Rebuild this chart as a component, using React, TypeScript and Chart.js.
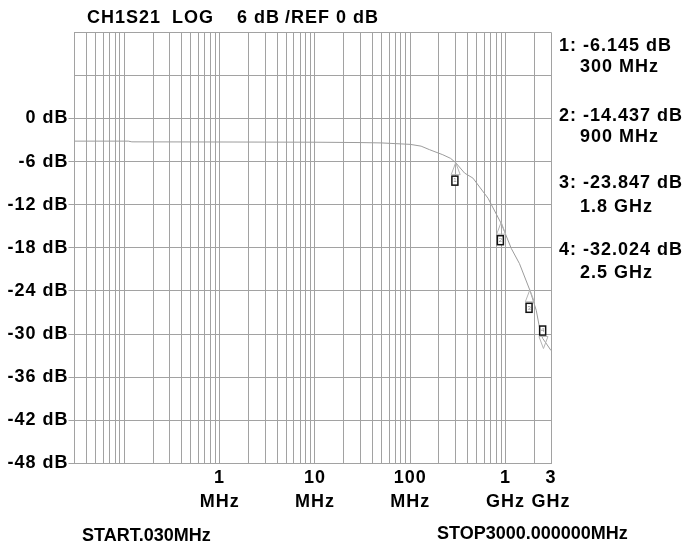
import React, { useEffect, useRef } from 'react';
import { Chart, registerables } from 'chart.js';

Chart.register(...registerables);

// ---- data ----
const traceFreqMHz = [0.03, 0.11, 0.12, 1, 10, 30, 50, 100, 130, 160, 220, 265, 300, 372, 455, 655, 900, 1150, 1400, 1800, 2100, 2280, 2450, 2700, 3000];
const traceDb = [-3.15, -3.15, -3.25, -3.27, -3.3, -3.35, -3.4, -3.6, -3.85, -4.35, -5.05, -5.55, -6.15, -7.6, -8.3, -11.1, -14.6, -18.1, -20.2, -23.9, -26.7, -29.2, -30.6, -31.4, -32.3];

const markerFreqMHz = [300, 900, 1800, 2500];
const markerDb = [-6.145, -14.437, -23.847, -32.024];
const markerFreqText = ['300 MHz', '900 MHz', '1.8 GHz', '2.5 GHz'];
const markerBelow = [true, true, true, false];

const xLabelValues = [1, 10, 100, 1000, 3000];
const xLabelLines = [['1', 'MHz'], ['10', 'MHz'], ['100', 'MHz'], ['1', 'GHz'], ['3', 'GHz']];
const xMin = 0.03;
const xMax = 3000;
const yMin = -48;
const yMax = 12;
const yStep = 6;

const headerParts = ['CH1S21', 'LOG', '6 dB', '/REF 0 dB'];
const startText = 'START.030MHz';
const stopText = 'STOP3000.000000MHz';

// ---- helpers ----
const FONT_FAMILY = '"Liberation Sans", Arial, Helvetica, sans-serif';
const GRID = '#a2a2a2';

function buildLogGrid(min: number, max: number): number[] {
  const out: number[] = [];
  for (let e = -3; e <= 4; e++) {
    for (let m = 1; m <= 9; m++) {
      const v = Number((m * Math.pow(10, e)).toPrecision(6));
      if (v >= min * 0.9999 && v <= max * 1.0001) out.push(v);
    }
  }
  return out;
}
const xGridValues = buildLogGrid(xMin, xMax);

const textPlugin = {
  id: 'textPlugin',
  beforeDraw(chart: any) {
    const ctx = chart.ctx;
    if ('letterSpacing' in ctx) ctx.letterSpacing = '1px';
  },
  afterDraw(chart: any) {
    const ctx = chart.ctx as CanvasRenderingContext2D;
    const xs = chart.scales.x;
    const ys = chart.scales.y;
    ctx.save();

    // markers
    markerFreqMHz.forEach((f, i) => {
      const px = xs.getPixelForValue(f);
      const py = ys.getPixelForValue(markerDb[i]);
      const dir = markerBelow[i] ? 1 : -1;
      ctx.strokeStyle = '#b4b4b4';
      ctx.lineWidth = 1;
      ctx.beginPath();
      ctx.moveTo(px, py);
      ctx.lineTo(px - 4.5, py + dir * 12);
      ctx.lineTo(px + 4.5, py + dir * 12);
      ctx.closePath();
      ctx.stroke();
      const bx = px - 3.8;
      const by = markerBelow[i] ? py + 13.5 : py - 22.5;
      ctx.fillStyle = '#ffffff';
      ctx.fillRect(bx, by, 6, 9);
      ctx.strokeStyle = '#111';
      ctx.lineWidth = 1.5;
      ctx.strokeRect(bx, by, 6, 9);
      if ('letterSpacing' in ctx) (ctx as any).letterSpacing = '0px';
      ctx.fillStyle = '#888';
      ctx.font = `6px ${FONT_FAMILY}`;
      ctx.textAlign = 'center';
      ctx.textBaseline = 'middle';
      ctx.fillText(String(i + 1), bx + 3, by + 4.7);
    });

    ctx.fillStyle = '#000';
    ctx.textBaseline = 'middle';
    ctx.textAlign = 'left';
    ctx.font = `bold 18px ${FONT_FAMILY}`;
    if ('letterSpacing' in ctx) (ctx as any).letterSpacing = '1px';

    // header
    const hx = [87, 172, 237, 285];
    headerParts.forEach((t, i) => ctx.fillText(t, hx[i], 18));

    // marker readouts
    const y1 = [46, 116, 183, 250];
    const y2 = [67, 137.5, 207, 273];
    markerDb.forEach((d, i) => {
      ctx.fillText(`${i + 1}: ${d.toFixed(3)} dB`, 559, y1[i]);
      ctx.fillText(markerFreqText[i], 580, y2[i]);
    });

    // start / stop
    if ('letterSpacing' in ctx) (ctx as any).letterSpacing = '0px';
    ctx.fillText(startText, 82, 536);
    ctx.fillText(stopText, 437, 534);

    ctx.restore();
  },
};

export default function App() {
  const ref = useRef<HTMLCanvasElement | null>(null);

  useEffect(() => {
    if (!ref.current) return;
    Chart.defaults.font.family = FONT_FAMILY;
    const data = traceFreqMHz.map((f, i) => ({ x: f, y: traceDb[i] }));
    const chart = new Chart(ref.current, {
      type: 'line',
      data: {
        datasets: [
          {
            data,
            borderColor: '#9c9c9c',
            borderWidth: 1,
            pointRadius: 0,
            tension: 0,
            fill: false,
          },
        ],
      },
      options: {
        animation: false,
        responsive: false,
        events: [],
        layout: { padding: { left: 0, top: 32.3, right: 133, bottom: 0 } },
        plugins: {
          legend: { display: false },
          tooltip: { enabled: false },
          title: { display: false },
        },
        scales: {
          x: {
            type: 'logarithmic',
            min: xMin,
            max: xMax,
            afterBuildTicks: (s: any) => {
              s.ticks = xGridValues.map((v) => ({ value: v }));
            },
            afterFit: (s: any) => {
              s.height = 84.7;
            },
            grid: { color: GRID, lineWidth: 1, drawTicks: false },
            border: { display: true, color: GRID },
            ticks: {
              autoSkip: false,
              maxRotation: 0,
              minRotation: 0,
              padding: 3,
              color: '#000',
              font: { size: 18, weight: 'bold', lineHeight: 1.32 },
              callback: (v: any) => {
                const n = Number(v);
                const idx = xLabelValues.findIndex((t) => Math.abs(t - n) / t < 1e-6);
                return idx >= 0 ? xLabelLines[idx] : '';
              },
            },
          },
          y: {
            type: 'linear',
            min: yMin,
            max: yMax,
            afterFit: (s: any) => {
              s.width = 74.5;
            },
            grid: {
              color: GRID,
              lineWidth: 1,
              drawTicks: true,
              tickLength: 6,
              tickColor: (c: any) => (c.tick && c.tick.value <= 0 ? GRID : 'rgba(0,0,0,0)'),
            },
            border: { display: true, color: GRID },
            ticks: {
              stepSize: yStep,
              padding: 0,
              color: '#000',
              font: { size: 18, weight: 'bold' },
              callback: (v: any) => (Number(v) <= 0 ? `${v} dB` : ''),
            },
          },
        },
      } as any,
      plugins: [textPlugin],
    });
    return () => chart.destroy();
  }, []);

  return (
    <div style={{ position: 'absolute', left: 0, top: 0, width: 684, height: 548, background: '#fff' }}>
      <canvas ref={ref} width={684} height={548} style={{ width: 684, height: 548, display: 'block' }} />
    </div>
  );
}
